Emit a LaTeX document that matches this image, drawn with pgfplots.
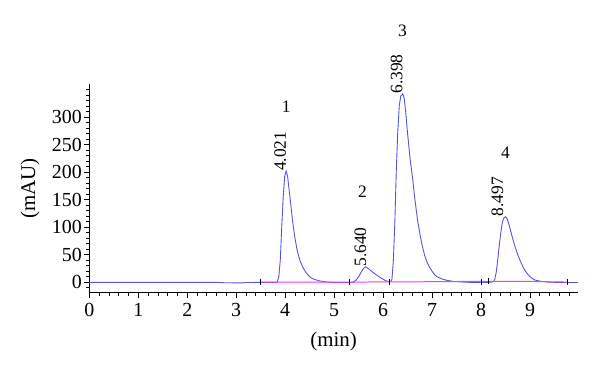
\documentclass[border=0pt]{standalone}
\usepackage{pgfplots}
\pgfplotsset{compat=1.18}
\usepackage{fontspec}
\setmainfont{Liberation Serif}
\definecolor{trace}{RGB}{85,85,220}
\definecolor{basel}{RGB}{240,60,240}
\begin{document}
\begin{tikzpicture}
\begin{axis}[
  scale only axis, width=488.7bp, height=208.7bp,
  at={(0,0)}, anchor=south west,
  xmin=0, xmax=9.98, ymin=-19, ymax=360,
  axis x line=bottom, axis y line=left, axis line style={-, black, line width=0.8pt},
  tick align=outside,
  xtick={0,1,...,9}, ytick={0,50,...,300},
  minor xtick={0,0.2,...,9.9}, minor ytick={-10,0,...,350},
  major tick length=5bp, minor tick length=3bp,
  every tick/.style={black, line width=0.7pt},
  /pgf/number format/assume math mode=true,
  ticklabel style={font=\fontsize{20}{22}\selectfont},
  xticklabel style={yshift=-2bp},
  yticklabel style={xshift=1bp},
  xlabel={(min)}, ylabel={(mAU)},
  every axis x label/.style={at={(axis description cs:0.5,-0.2314)}, anchor=center, font=\fontsize{21}{23}\selectfont},
  every axis y label/.style={at={(axis description cs:-0.1213,0.5)}, anchor=center, rotate=90, font=\fontsize{21}{23}\selectfont},
  clip=false,
]
\addplot[trace, line width=0.9pt] coordinates {
(0,-0.3)(1,-0.3)(2,-0.3)(2.6,-0.3)(2.7,-0.8)(2.9,-1)(3.1,-1.3)(3.2,-0.5)(3.5,-0.3)(3.80,-0.3)
(3.84,1)(3.87,10)(3.90,40)(3.93,100)(3.96,155)(3.99,192)(4.02,202)(4.05,192)(4.08,168)(4.11,145)
(4.15,112)(4.20,80)(4.25,56)(4.30,40)(4.35,29)(4.40,21)(4.45,15)(4.50,10)(4.55,7)(4.60,5)
(4.70,2.5)(4.80,1)(4.90,0)(5.00,-0.5)(5.35,-0.5)
(5.40,1)(5.45,4)(5.50,10)(5.55,18)(5.60,25)(5.64,28)(5.68,26)(5.75,21)(5.80,17.5)(5.85,14)
(5.90,11)(5.95,8)(6.00,5.5)(6.05,3)(6.10,1.5)(6.15,1)
(6.18,5)(6.21,40)(6.24,110)(6.27,205)(6.30,275)(6.33,320)(6.36,338)(6.40,342)(6.43,335)(6.46,310)
(6.50,270)(6.55,225)(6.60,190)(6.65,150)(6.70,115)(6.75,88)(6.80,66)(6.85,48)(6.90,36)(6.95,27)
(7.00,20)(7.05,14)(7.10,10)(7.20,6)(7.30,3.5)(7.40,2)(7.50,1)(7.70,0)(7.9,-0.5)(8.1,-0.5)
(8.20,0)(8.25,1)(8.28,5)(8.31,18)(8.34,40)(8.37,65)(8.40,88)(8.43,106)(8.46,116)(8.50,119)
(8.53,116)(8.56,108)(8.60,95)(8.65,78)(8.70,63)(8.75,50)(8.80,39)(8.85,29)(8.90,21)(8.95,15)
(9.00,10)(9.05,6.5)(9.10,4)(9.20,2)(9.30,1)(9.40,0)(9.76,-0.5)(9.98,-0.5)};
\addplot[basel, line width=1pt] coordinates {
(3.5,0.3)(5.32,0.3)(6.13,0.6)(7.1,1)(8.0,1.8)(9.0,1.5)(9.76,0.3)};
\addplot[only marks, mark=|, mark size=3bp, black, mark options={line width=0.7pt}] coordinates {
(3.5,1)(5.32,1)(6.13,1)(8.0,0)(8.15,2)(9.76,0)};
\node[rotate=90, anchor=west, font=\fontsize{17.5}{19}\selectfont, inner sep=0pt] at (axis cs:4.021,202) [yshift=6bp] {4.021};
\node[font=\fontsize{17.5}{19}\selectfont, inner sep=0pt] at (axis cs:4.021,202) [yshift=64bp] {1};
\node[rotate=90, anchor=west, font=\fontsize{17.5}{19}\selectfont, inner sep=0pt] at (axis cs:5.640,28) [yshift=5bp] {5.640};
\node[font=\fontsize{17.5}{19}\selectfont, inner sep=0pt] at (axis cs:5.580,28) [yshift=75bp] {2};
\node[rotate=90, anchor=west, font=\fontsize{17.5}{19}\selectfont, inner sep=0pt] at (axis cs:6.398,342) [yshift=6bp] {6.398};
\node[font=\fontsize{17.5}{19}\selectfont, inner sep=0pt] at (axis cs:6.398,342) [yshift=63bp] {3};
\node[rotate=90, anchor=west, font=\fontsize{17.5}{19}\selectfont, inner sep=0pt] at (axis cs:8.497,119) [yshift=8bp] {8.497};
\node[font=\fontsize{17.5}{19}\selectfont, inner sep=0pt] at (axis cs:8.497,119) [yshift=64bp] {4};
\end{axis}
\useasboundingbox (-89.3bp,-81.3bp) rectangle (510.7bp,292.7bp);
\end{tikzpicture}
\end{document}
